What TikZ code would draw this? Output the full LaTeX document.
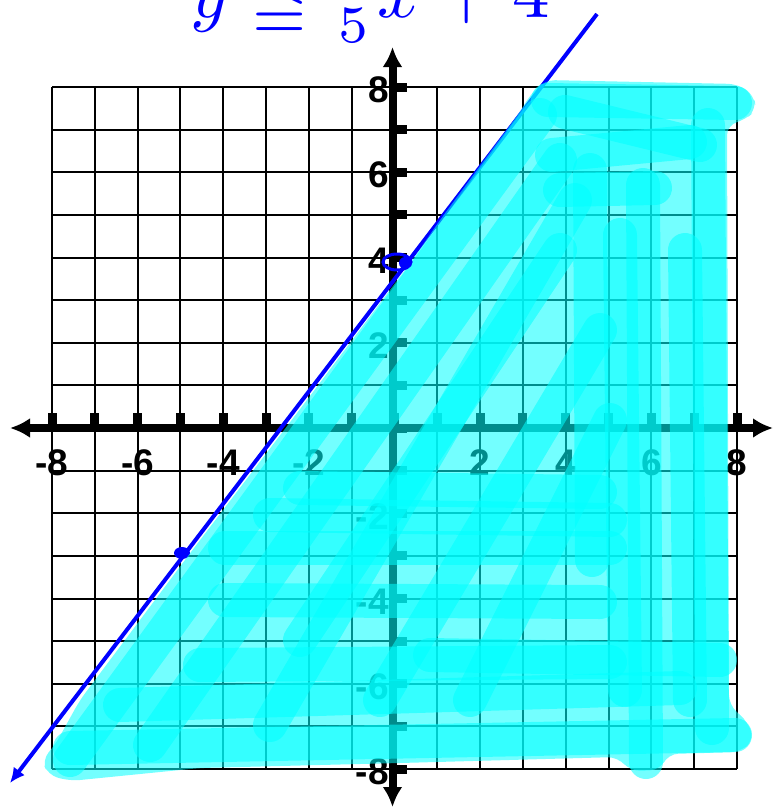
\documentclass[tikz,border=0pt]{standalone}
\usepackage{fontspec}
\setmainfont{Liberation Sans}
\usepackage{amssymb}
\usetikzlibrary{arrows.meta}
\definecolor{aqua}{RGB}{0,255,255}
\definecolor{pen}{RGB}{0,0,255}
\begin{document}
\begin{tikzpicture}[x=1pt,y=-1pt,
  gridline/.style={line width=2pt, black},
  axisline/.style={line width=8pt, black},
  tickmark/.style={fill=black},
  lbl/.style={font=\fontsize{37}{37}\selectfont\bfseries, inner sep=0pt},
  hilite/.style={aqua, opacity=0.55, line width=34pt, line cap=round, line join=round},
  basefill/.style={fill=aqua, fill opacity=0.55, rounded corners=10pt},
  bound/.style={pen, line width=4pt},
]
\useasboundingbox (0,0) rectangle (773,807);
% grid
\foreach \k in {0,...,16} {
  \draw[gridline] ({52+42.8125*\k},87) -- ({52+42.8125*\k},769);
  \draw[gridline] (52,{87+42.625*\k}) -- (737,{87+42.625*\k});
}
% axes
\draw[axisline, {Latex[length=20pt,width=20pt]}-{Latex[length=20pt,width=20pt]}] (10,428) -- (773,428);
\draw[axisline, {Latex[length=20pt,width=20pt]}-{Latex[length=20pt,width=20pt]}] (392.5,47) -- (392.5,807);
% ticks
\foreach \k in {0,...,16} {
  \fill[tickmark] ({52+42.8125*\k-4.5},413) rectangle ({52+42.8125*\k+4.5},426);
  \fill[tickmark] (396,{87+42.625*\k-4.5}) rectangle (407,{87+42.625*\k+4.5});
}
% labels
\foreach \v/\n in {-8/a,-6/b,-4/c,-2/d,2/e,4/f,6/g,8/h} {
  \node[lbl] (xl\n) at ({52+42.8125*(\v+8)},463) {\v};
  \node[lbl, anchor=east] (yl\n) at (389,{87+42.625*(8-\v)+3}) {\v};
}
% boundary line
\draw[bound, -{Latex[length=15pt,width=14pt]}] (597,14) -- (10,783);
\fill[pen] (182,553) ellipse [x radius=8pt, y radius=6pt];
% shading
\fill[basefill] (530,95) -- (545,80) -- (738,84) -- (754,95) -- (756,110) -- (745,120) -- (727,125)
  -- (729,705) -- (748,722) -- (754,740) -- (740,752) -- (668,754) -- (660,770) -- (630,771)
  -- (618,757) -- (400,763) -- (200,768) -- (70,781) -- (48,775) -- (42,760) -- (55,745)
  -- (80,700) -- (191,552) -- (307,400) -- (411,262) -- (440,220) -- (520,112) -- cycle;
\draw[hilite] (548,100) -- (735,103);
\draw[hilite] (565,112) -- (700,145);
\draw[hilite] (552,155) -- (690,142);
\draw[hilite] (560,190) -- (655,188);
\draw[hilite] (708,125) -- (712,728);
\draw[hilite] (643,185) -- (646,762);
\draw[hilite] (590,170) -- (592,560);
\draw[hilite] (620,235) -- (625,690);
\draw[hilite] (685,250) -- (690,700);
\draw[hilite] (70,760) -- (540,115);
\draw[hilite] (150,745) -- (560,160);
\draw[hilite] (270,725) -- (575,200);
\draw[hilite] (300,640) -- (560,250);
\draw[hilite] (380,700) -- (600,330);
\draw[hilite] (470,700) -- (610,420);
\draw[hilite] (300,488) -- (600,492);
\draw[hilite] (270,515) -- (610,520);
\draw[hilite] (225,548) -- (610,548);
\draw[hilite] (225,600) -- (600,602);
\draw[hilite] (200,665) -- (610,662);
\draw[hilite] (120,705) -- (680,688);
\draw[hilite] (70,748) -- (735,735);
\draw[hilite] (430,655) -- (720,660);
% point (0,4)
\draw[pen, line width=3pt] (397,262) ellipse [x radius=14pt, y radius=8pt];
\fill[pen] (405,263) circle [radius=6pt];
% title
\node[text=pen, anchor=base, inner sep=0pt] (title) at (370,17) {\scalebox{7.5}{$y \leqq \frac{7}{5}x+4$}};
\end{tikzpicture}
\end{document}
